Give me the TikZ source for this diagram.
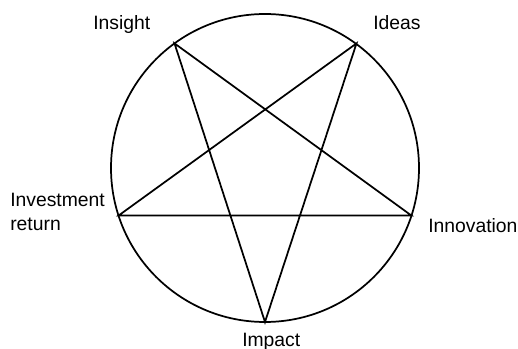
\documentclass[tikz,border=0pt]{standalone}
\usepackage{fontspec}
\setmainfont{Liberation Sans}
\begin{document}
\begin{tikzpicture}[x=0.75pt,y=-0.75pt,
  lbl/.style={inner sep=0pt,font=\fontsize{14.5}{18}\selectfont}]
\useasboundingbox (0,0) rectangle (518,349);
\draw[line width=1.3pt] (265,168) circle[radius=154];
\coordinate (insight) at (174.5,43.4);
\coordinate (ideas) at (356.5,43.4);
\coordinate (investment) at (118.5,215.6);
\coordinate (innovation) at (411.5,215.6);
\coordinate (impact) at (265,322);
\draw[line width=1.3pt,line join=miter] (insight) -- (impact) -- (ideas) -- (investment) -- (innovation) -- cycle;
\node[lbl,anchor=base west] (tinsight) at (93,30) {Insight};
\node[lbl,anchor=base west] (tideas) at (373,30) {Ideas};
\node[lbl,anchor=base west,align=left] (tinvest) at (10,231) {Investment\\return};
\node[lbl,anchor=base west] (tinnov) at (428,233) {Innovation};
\node[lbl,anchor=base west] (timpact) at (242,346) {Impact};
\end{tikzpicture}
\end{document}
